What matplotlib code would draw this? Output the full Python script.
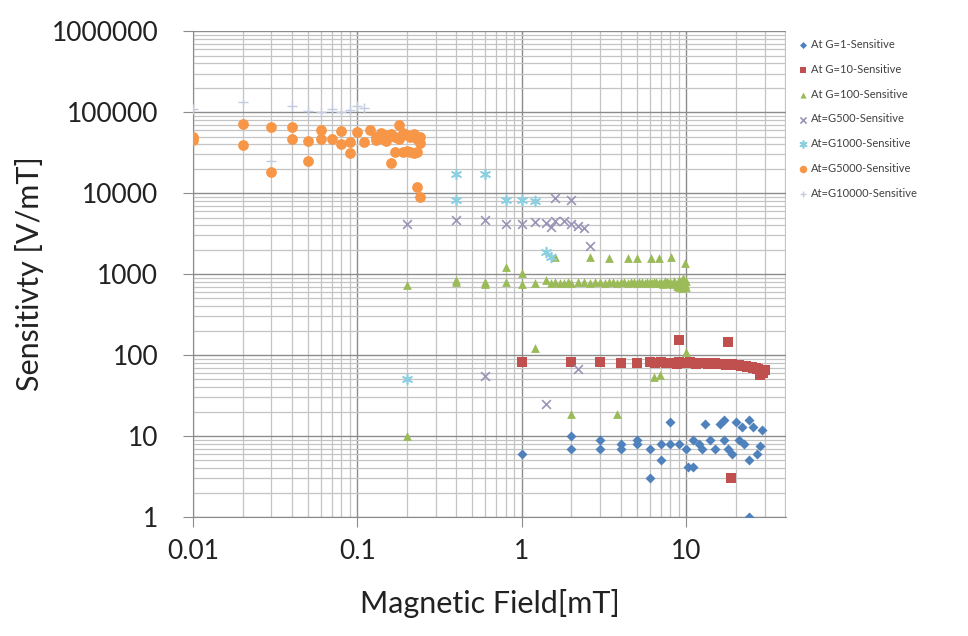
import matplotlib
matplotlib.use("Agg")
import matplotlib.pyplot as plt
from matplotlib.ticker import FixedLocator, FuncFormatter, LogLocator, NullFormatter

plt.rcParams['font.family'] = ['Lato', 'DejaVu Sans']

# ---- data (Magnetic Field [mT], Sensitivity [V/mT]) ----
g1_x = [1.0, 2, 2, 3, 3, 4, 4, 5, 5, 6, 6, 7, 7, 8, 8, 9, 10, 10.3, 11, 11, 12, 12.5, 13,
        14, 15, 16, 17, 17, 18, 19, 20, 21, 22, 22.5, 24, 24, 24, 25.5, 27, 28, 29]
g1_y = [6, 10, 7, 9, 7, 8, 7, 9, 8, 7, 3, 8, 5, 15, 8, 8, 7, 4.2, 4.2, 9, 8, 7, 14,
        9, 7, 14, 16, 9, 7, 6, 15, 9, 13, 8, 16, 5, 1, 13, 6, 7.5, 12]

g10_x = [1, 2, 3, 4, 5, 6, 6.5, 7, 7.5, 8, 8.5, 8.8, 9, 9, 9.5, 10, 10.5, 11, 11.5, 12,
         12.5, 13, 13.5, 14, 14.5, 15, 15.5, 16, 16.5, 17, 17.5, 18, 18, 18.8, 19, 19.5,
         20, 20.5, 21, 21.5, 22, 22.5, 23, 23.5, 24, 24.5, 25, 25.5, 26, 26.5, 27, 27.5,
         28, 28, 28.5, 29, 29.5, 30]
g10_y = [83, 83, 83, 81, 81, 82, 80, 82, 81, 80, 81, 78, 153, 82, 79, 80, 82, 81, 78, 79,
         80, 80, 78, 78, 79, 79, 77, 77, 78, 78, 76, 146, 76, 3, 77, 75, 75, 76, 76, 74,
         74, 73, 73, 72, 72, 71, 71, 70, 70, 69, 68, 67, 66, 56, 64, 64, 60, 65]

g100_x = [0.2, 0.2, 0.4, 0.4, 0.6, 0.6, 0.8, 0.8, 1.0, 1.0, 1.2, 1.2, 1.4, 1.5, 1.6, 1.6,
          1.7, 1.8, 1.9, 2.0, 2.0, 2.2, 2.4, 2.6, 2.6, 2.8, 3.0, 3.2, 3.4, 3.4, 3.6, 3.8,
          3.8, 4.0, 4.2, 4.4, 4.4, 4.6, 4.8, 5.0, 5.0, 5.2, 5.4, 5.6, 5.8, 6.0, 6.1, 6.2,
          6.4, 6.4, 6.6, 6.8, 6.8, 6.9, 7.0, 7.2, 7.4, 7.6, 7.8, 8.0, 8.1, 8.2, 8.4, 8.6,
          8.8, 9.0, 9.0, 9.2, 9.4, 9.6, 9.8, 9.8, 10, 10, 10]
g100_y = [731, 10, 843, 800, 800, 760, 800, 1230, 760, 1020, 770, 121, 840, 780, 1640, 790,
          780, 770, 800, 19, 780, 790, 800, 1640, 780, 790, 800, 780, 1580, 790, 800, 19,
          780, 790, 800, 1580, 780, 790, 810, 1580, 780, 800, 790, 780, 800, 790, 1580, 780,
          54, 800, 790, 1580, 780, 57, 800, 760, 820, 790, 770, 800, 1640, 760, 830, 780,
          720, 850, 700, 790, 680, 900, 1360, 760, 110, 700, 820]

g500_x = [0.2, 0.4, 0.6, 0.6, 0.8, 1.0, 1.2, 1.4, 1.4, 1.5, 1.6, 1.6, 1.8, 2.0, 2.0, 2.2,
          2.2, 2.4, 2.6]
g500_y = [4100, 4600, 4600, 55, 4100, 4200, 4400, 25, 4300, 3800, 8800, 4500, 4500, 8200,
          4100, 3900, 68, 3700, 2200]

g1000_x = [0.2, 0.4, 0.4, 0.6, 0.8, 1.0, 1.2, 1.4, 1.5]
g1000_y = [50, 17200, 8300, 17000, 8200, 8200, 8000, 1900, 1640]

g5000_x = [0.01, 0.01, 0.02, 0.02, 0.03, 0.03, 0.04, 0.04, 0.05, 0.05, 0.06, 0.06, 0.07,
           0.08, 0.08, 0.09, 0.09, 0.1, 0.11, 0.12, 0.13, 0.13, 0.14, 0.14, 0.15, 0.15,
           0.16, 0.16, 0.17, 0.17, 0.18, 0.18, 0.19, 0.19, 0.2, 0.2, 0.21, 0.21, 0.22,
           0.22, 0.23, 0.23, 0.23, 0.24, 0.24, 0.24]
g5000_y = [49000, 45000, 72000, 39000, 65800, 18300, 65000, 46000, 43800, 25000, 60000,
           46000, 47000, 58000, 41000, 43000, 31000, 57000, 43000, 60000, 50000, 45000,
           55000, 48000, 52000, 44000, 54000, 23300, 50000, 32000, 69000, 47000, 55000,
           32000, 52000, 33000, 50000, 32000, 53000, 31000, 46000, 32000, 12000, 50000,
           42000, 8900]

g10000_x = [0.01, 0.02, 0.03, 0.04, 0.05, 0.06, 0.07, 0.08, 0.09, 0.1, 0.11]
g10000_y = [110000, 134000, 25000, 118000, 104000, 100000, 110000, 100000, 106000, 118000,
            112000]

labels = ['At G=1-Sensitive', 'At G=10-Sensitive', 'At G=100-Sensitive', 'At=G500-Sensitive',
          'At=G1000-Sensitive', 'At=G5000-Sensitive', 'At=G10000-Sensitive']

fig = plt.figure(figsize=(9.68, 6.36), dpi=100)
ax = fig.add_axes([0.1994, 0.187, 0.6126, 0.764])

ax.scatter(g1_x, g1_y, marker='D', s=26, color='#4f81bd', lw=0, zorder=3, label=labels[0])
ax.scatter(g10_x, g10_y, marker='s', s=50, color='#c0504d', lw=0, zorder=3, label=labels[1])
ax.scatter(g100_x, g100_y, marker='^', s=40, color='#9bbb59', lw=0, zorder=3, label=labels[2])
ax.scatter(g500_x, g500_y, marker='x', s=40, color='#9b94b8', lw=1.2, zorder=3, label=labels[3])
ax.scatter(g1000_x, g1000_y, marker=(6, 2, 0), s=50, color='#8ccfe0', lw=1.2, zorder=3, label=labels[4])
ax.scatter(g5000_x, g5000_y, marker='o', s=60, color='#f79646', lw=0, zorder=3, label=labels[5])
ax.scatter(g10000_x, g10000_y, marker='+', s=50, color='#c3cbe0', lw=1.0, zorder=3, label=labels[6])

ax.set_xscale('log')
ax.set_yscale('log')
ax.set_xlim(0.01, 40.5)
ax.set_ylim(1, 1000000)

ax.xaxis.set_major_locator(FixedLocator([0.01, 0.1, 1, 10]))
ax.xaxis.set_major_formatter(FuncFormatter(lambda v, p: '%g' % v))
ax.xaxis.set_minor_locator(LogLocator(base=10, subs=range(2, 10)))
ax.xaxis.set_minor_formatter(NullFormatter())
ax.yaxis.set_major_locator(FixedLocator([1, 10, 100, 1000, 10000, 100000, 1000000]))
ax.yaxis.set_major_formatter(FuncFormatter(lambda v, p: '%d' % round(v)))
ax.yaxis.set_minor_locator(LogLocator(base=10, subs=range(2, 10)))
ax.yaxis.set_minor_formatter(NullFormatter())

ax.grid(True, which='major', color='#8c8c8c', lw=1.0, zorder=0)
ax.grid(True, which='minor', color='#c4c4c4', lw=0.9, zorder=0)
ax.set_axisbelow(True)

for side in ['top', 'right']:
    ax.spines[side].set_visible(False)
for side in ['left', 'bottom']:
    ax.spines[side].set_color('#8c8c8c')
ax.tick_params(which='major', length=7, color='#8c8c8c', labelsize=19, labelcolor='#222222')
ax.tick_params(axis='y', pad=18)
ax.tick_params(axis='x', pad=9)
ax.tick_params(which='minor', length=0)

ax.set_xlabel('Magnetic Field[mT]', fontsize=22, color='#222222', labelpad=18)
fig.text(30 / 968, 0.5 * (0.187 + 0.951), 'Sensitivty [V/mT]', fontsize=22, color='#222222',
         rotation=90, ha='center', va='center')

fig.legend(loc='upper left', bbox_to_anchor=(0.819, 0.946), frameon=False, fontsize=8,
           labelcolor='#404040', labelspacing=1.25, handlelength=1.0, handletextpad=0.2,
           markerscale=0.7, borderaxespad=0)

fig.savefig('out.png', dpi=100)
